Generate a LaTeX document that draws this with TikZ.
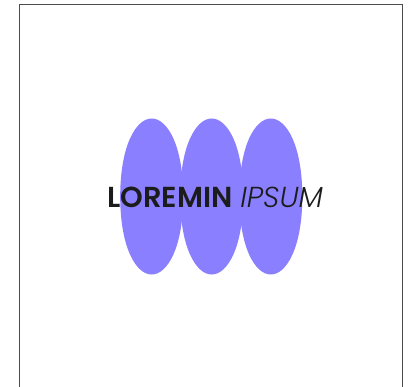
\documentclass[tikz,border=0pt]{standalone}
\usepackage{fontspec}
\setmainfont{Poppins}[BoldFont=Poppins SemiBold,ItalicFont=Poppins Light Italic]
\definecolor{blob}{HTML}{8A7FFF}
\definecolor{ink}{HTML}{1C1C1C}
\tikzset{blobshape/.style={fill=blob,draw=none}}
\newcommand{\lobeat}[1]{\fill[blobshape,shift={(#1,196.5)}] (0,-78) .. controls (15.8,-78) and (31.5,-50.7) .. (31.5,0) .. controls (31.5,50.7) and (15.8,78) .. (0,78) .. controls (-15.8,78) and (-31.5,50.7) .. (-31.5,0) .. controls (-31.5,-50.7) and (-15.8,-78) .. (0,-78) -- cycle;}
\begin{document}
\begin{tikzpicture}[x=1pt,y=-1pt]
\useasboundingbox (0,0) rectangle (414,387);
\fill[white] (0,0) rectangle (414,387);
\draw[line width=1.7pt,color=black!70] (19.5,390) -- (19.5,4.5) -- (402.5,4.5) -- (402.5,390);
\lobeat{151.7}
\lobeat{211.7}
\lobeat{270.8}
\node[anchor=base west,inner sep=0pt,text=ink,font=\fontsize{28.9}{32}\selectfont] (t) at (107.3,207.5) {\textbf{LOREMIN} \textit{IPSUM}};
\end{tikzpicture}
\end{document}
